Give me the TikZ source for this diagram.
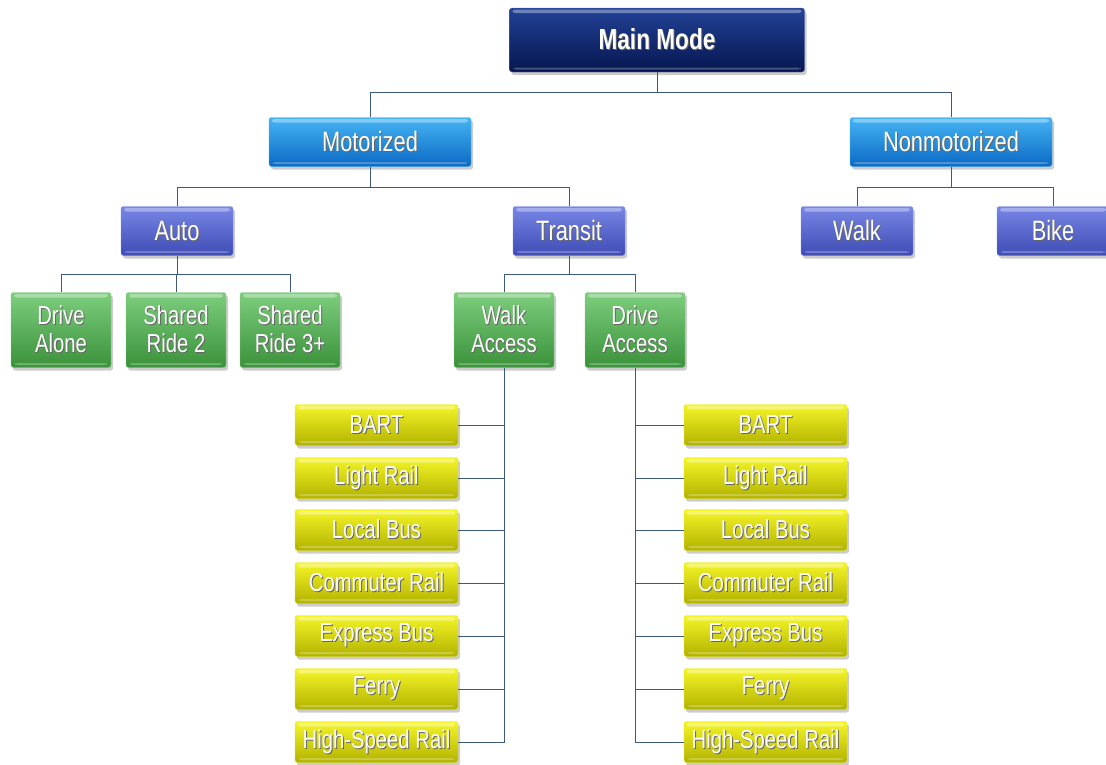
\documentclass[tikz,border=0pt]{standalone}
\usepackage{fontspec}
\setmainfont{Liberation Sans}[FakeStretch=0.78]
\usetikzlibrary{shadows}
\definecolor{navyT}{RGB}{34,66,150}
\definecolor{navyB}{RGB}{6,22,80}
\definecolor{skyT}{RGB}{70,180,245}
\definecolor{skyB}{RGB}{10,105,195}
\definecolor{violT}{RGB}{120,134,230}
\definecolor{violB}{RGB}{62,76,180}
\definecolor{grnT}{RGB}{125,205,125}
\definecolor{grnB}{RGB}{58,146,58}
\definecolor{yelT}{RGB}{245,245,40}
\definecolor{yelB}{RGB}{178,178,0}
\definecolor{conncol}{RGB}{60,90,125}
\newcommand\shtext[1]{\leavevmode\rlap{\kern1pt\raisebox{-1pt}{\textcolor{black!60}{#1}}}#1}
\tikzset{
  base/.style={rectangle, rounded corners=2.5pt, inner sep=0pt, text=white, align=center,
    drop shadow={opacity=0.4,shadow xshift=2pt,shadow yshift=-3pt},
    path picture={
      \fill[white,opacity=0.35] ([xshift=3pt,yshift=-1.5pt]path picture bounding box.north west) rectangle ([xshift=-3pt,yshift=-5pt]path picture bounding box.north east);
      \fill[white,opacity=0.25] ([xshift=4pt,yshift=2.5pt]path picture bounding box.south west) rectangle ([xshift=-4pt,yshift=4.5pt]path picture bounding box.south east);
    }},
  lvlA/.style={base, top color=navyT, bottom color=navyB, draw=navyT!70!white, minimum width=295pt, minimum height=64pt, font=\fontsize{29}{29}\selectfont\bfseries},
  lvlB/.style={base, top color=skyT, bottom color=skyB, draw=skyT, minimum width=202pt, minimum height=49pt, font=\fontsize{28}{28}\selectfont},
  lvlC/.style={base, top color=violT, bottom color=violB, draw=violT, minimum width=112pt, minimum height=49pt, font=\fontsize{28}{28}\selectfont},
  lvlD/.style={base, top color=grnT, bottom color=grnB, draw=grnT, minimum width=100pt, minimum height=75pt, font=\fontsize{26}{28}\selectfont},
  lvlE/.style={base, top color=yelT, bottom color=yelB, draw=yelT!80!yelB, minimum width=163pt, minimum height=41pt, font=\fontsize{26}{26}\selectfont},
  conn/.style={draw=conncol, line width=1pt}
}
\begin{document}
\begin{tikzpicture}[x=1pt,y=-1pt]
\useasboundingbox (0,0) rectangle (1106,764);
% level A
\node[lvlA] (main) at (657,40) {\shtext{Main Mode}};
% level B
\node[lvlB] (motor) at (370,142) {\shtext{Motorized}};
\node[lvlB] (nonmotor) at (951,142) {\shtext{Nonmotorized}};
% level C
\node[lvlC] (auto) at (177,231) {\shtext{Auto}};
\node[lvlC] (transit) at (569,231) {\shtext{Transit}};
\node[lvlC] (walk) at (857,231) {\shtext{Walk}};
\node[lvlC] (bike) at (1053,231) {\shtext{Bike}};
% level D
\node[lvlD] (da) at (61,330) {\shtext{Drive}\\\shtext{Alone}};
\node[lvlD] (sr2) at (176,330) {\shtext{Shared}\\\shtext{Ride 2}};
\node[lvlD] (sr3) at (290,330) {\shtext{Shared}\\\shtext{Ride 3+}};
\node[lvlD] (wacc) at (504,330) {\shtext{Walk}\\\shtext{Access}};
\node[lvlD] (dacc) at (635,330) {\shtext{Drive}\\\shtext{Access}};
% level E left
\node[lvlE] (l1) at (376.5,425) {\shtext{BART}};
\node[lvlE] (l2) at (376.5,478) {\shtext{Light Rail}};
\node[lvlE] (l3) at (376.5,530) {\shtext{Local Bus}};
\node[lvlE] (l4) at (376.5,583) {\shtext{Commuter Rail}};
\node[lvlE] (l5) at (376.5,636) {\shtext{Express Bus}};
\node[lvlE] (l6) at (376.5,689) {\shtext{Ferry}};
\node[lvlE] (l7) at (376.5,742) {\shtext{High-Speed Rail}};
% level E right
\node[lvlE] (r1) at (765.5,425) {\shtext{BART}};
\node[lvlE] (r2) at (765.5,478) {\shtext{Light Rail}};
\node[lvlE] (r3) at (765.5,530) {\shtext{Local Bus}};
\node[lvlE] (r4) at (765.5,583) {\shtext{Commuter Rail}};
\node[lvlE] (r5) at (765.5,636) {\shtext{Express Bus}};
\node[lvlE] (r6) at (765.5,689) {\shtext{Ferry}};
\node[lvlE] (r7) at (765.5,742) {\shtext{High-Speed Rail}};
% connectors
\draw[conn] (main.south) -- ++(0,20) coordinate (j1);
\draw[conn] (j1) -| (motor.north);
\draw[conn] (j1) -| (nonmotor.north);
\draw[conn] (motor.south) -- ++(0,21) coordinate (j2);
\draw[conn] (j2) -| (auto.north);
\draw[conn] (j2) -| (transit.north);
\draw[conn] (nonmotor.south) -- ++(0,21) coordinate (j3);
\draw[conn] (j3) -| (walk.north);
\draw[conn] (j3) -| (bike.north);
\draw[conn] (auto.south) -- ++(0,19) coordinate (j4);
\draw[conn] (j4) -| (da.north);
\draw[conn] (j4) -| (sr2.north);
\draw[conn] (j4) -| (sr3.north);
\draw[conn] (transit.south) -- ++(0,19) coordinate (j5);
\draw[conn] (j5) -| (wacc.north);
\draw[conn] (j5) -| (dacc.north);
\draw[conn] (wacc.south) |- (l7.east);
\foreach \n in {l1,l2,l3,l4,l5,l6} \draw[conn] (\n.east) -- (\n.east -| wacc.south);
\draw[conn] (dacc.south) |- (r7.west);
\foreach \n in {r1,r2,r3,r4,r5,r6} \draw[conn] (\n.west) -- (\n.west -| dacc.south);
\end{tikzpicture}
\end{document}
